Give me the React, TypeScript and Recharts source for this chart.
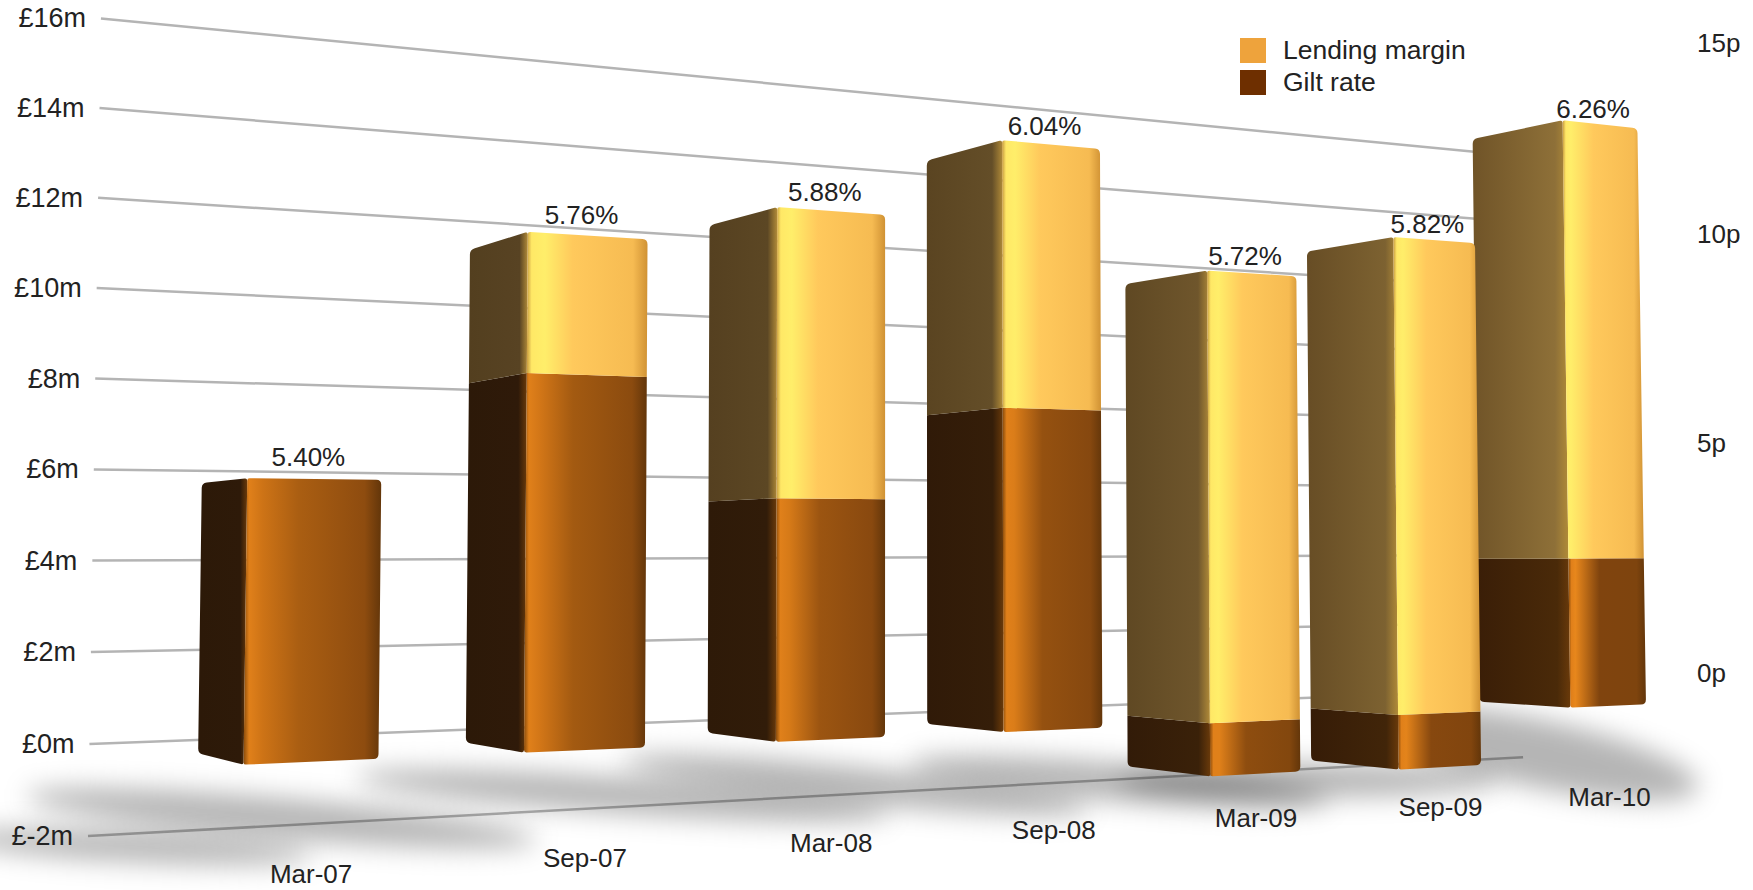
import React from 'react';
import { Bar, CartesianGrid, ComposedChart, LabelList, Legend, XAxis, YAxis } from 'recharts';

const periods = ['Mar-07', 'Sep-07', 'Mar-08', 'Sep-08', 'Mar-09', 'Sep-09', 'Mar-10'];
const giltRate = [5.6, 7.86, 5.3, 7.43, -1.27, -1.36, 3.9];
const lendingMargin = [0, 2.95, 6.4, 6.2, 10.9, 12.05, 11.6];
const rateLabels = ['5.40%', '5.76%', '5.88%', '6.04%', '5.72%', '5.82%', '6.26%'];
const leftTicks = [-2, 0, 2, 4, 6, 8, 10, 12, 14, 16];
const rightTicks = [0, 5, 10, 15];

// Later periods go first so that nearer bars paint over the ones behind them
const rows = periods
    .map((period, i) => ({ period, gilt: giltRate[i], margin: lendingMargin[i], rate: rateLabels[i] }))
    .reverse();

const WIDTH = 1753;
const HEIGHT = 890;
const AXIS_W = 60;
const TOP = 20;
const BOTTOM = 20;
const PLOT_W = WIDTH - 2 * AXIS_W;
const PLOT_H = HEIGHT - TOP - BOTTOM;
const BAND = PLOT_W / periods.length;
const BAR_W = Math.round(BAND * 0.467);
const BAR0_LEFT = AXIS_W + (BAND - BAR_W) / 2;
const Y_ZERO = TOP + (PLOT_H * 16) / 18;

// Three point perspective: origin is the nearest corner of the first bar at value zero
const ORIGIN = { x: 243.7, y: 764.7 };
const VP_X = { x: 5469, y: 540 };
const VP_Y = { x: 894, y: -50000 };
const VP_Z = { x: -559, y: 565 };
const X_RATE = 0.05672 / BAND;
const Y_RATE = 1 / (ORIGIN.y - VP_Y.y);
const Y_GAIN = 1.0894;
const BAR_DEPTH = 0.06;
const WALL_DEPTH = 0.1307;

type Pt = { x: number; y: number };

const project = (px: number, py: number, depth: number): Pt => {
    const t = (px - BAR0_LEFT) * X_RATE;
    const h = (Y_ZERO - py) * Y_GAIN * Y_RATE;
    const w = 1 + t + h + depth;
    return {
        x: (ORIGIN.x + t * VP_X.x + h * VP_Y.x + depth * VP_Z.x) / w,
        y: (ORIGIN.y + t * VP_X.y + h * VP_Y.y + depth * VP_Z.y) / w,
    };
};

// Outline with per-corner radius, [point, radius]
const roundedPath = (corners: [Pt, number][]) => {
    const n = corners.length;
    let d = '';
    corners.forEach(([p, r], i) => {
        const prev = corners[(i + n - 1) % n][0];
        const next = corners[(i + 1) % n][0];
        const toward = (q: Pt) => {
            const len = Math.hypot(q.x - p.x, q.y - p.y) || 1;
            const k = Math.min(r, len / 2) / len;
            return { x: p.x + (q.x - p.x) * k, y: p.y + (q.y - p.y) * k };
        };
        const a = toward(prev);
        const b = toward(next);
        d += `${i ? 'L' : 'M'}${a.x.toFixed(1)},${a.y.toFixed(1)} Q${p.x.toFixed(1)},${p.y.toFixed(1)} ${b.x.toFixed(1)},${b.y.toFixed(1)} `;
    });
    return d + 'Z';
};

const mix = (from: number[], to: number[], k: number) =>
    `rgb(${from.map((c, i) => Math.round(c + (to[i] - c) * k)).join(',')})`;

const BarFaces = (series: 'gilt' | 'margin') => (props: any) => {
    const { x, y, width, height, payload } = props;
    const top = Math.min(y, y + height);
    const bottom = Math.max(y, y + height);
    if (bottom - top < 0.5) return <g />;
    const idx = periods.indexOf(payload.period);
    const roundTop = series === 'margin' || payload.margin === 0;
    const roundBottom = series === 'gilt';
    const rT = roundTop ? 5 : 0;
    const rB = roundBottom ? 5 : 0;
    const cornerTop = project(x, top, 0);
    const cornerBottom = project(x, bottom, 0);
    const rightTop = project(x + width, top, 0);
    const rightBottom = project(x + width, bottom, 0);
    const leftTop = project(x, top, BAR_DEPTH);
    const leftBottom = project(x, bottom, BAR_DEPTH);
    return (
        <g>
            <path
                fill={`url(#${series}-left-${idx})`}
                d={roundedPath([[leftTop, rT], [cornerTop, rT / 2], [cornerBottom, rB / 2], [leftBottom, rB]])}
            />
            <path
                fill={`url(#${series}-right-${idx})`}
                d={roundedPath([[cornerTop, rT / 2], [rightTop, rT], [rightBottom, rB], [cornerBottom, rB / 2]])}
            />
        </g>
    );
};

// Floor shadow of each bar, placed relative to the foot of the bar
const shadowShapes = [
    { dx: -178, dy: 85, rx: 178, ry: 15, rot: 3 },
    { dx: -304, dy: 68, rx: 256, ry: 20, rot: 5 },
    { dx: -209, dy: 56, rx: 267, ry: 18, rot: 4 },
    { dx: -198, dy: 55, rx: 234, ry: 18, rot: 6 },
    { dx: -136, dy: 61, rx: 210, ry: 19, rot: 5 },
    { dx: -132, dy: 67, rx: 190, ry: 17, rot: 0 },
    { dx: -72, dy: 47, rx: 165, ry: 34, rot: 12 },
];

const renderShadow = (props: any) => {
    const { x, width, payload } = props;
    const idx = periods.indexOf(payload.period);
    const s = shadowShapes[idx];
    const foot = project(x + width / 2, Y_ZERO, 0);
    const sx = foot.x + s.dx;
    const sy = foot.y + s.dy;
    return (
        <ellipse
            cx={sx}
            cy={sy}
            rx={s.rx}
            ry={s.ry}
            fill="#000"
            fillOpacity={0.29}
            filter="url(#floor-blur)"
            transform={`rotate(${s.rot} ${sx} ${sy})`}
        />
    );
};

const textStyle = { fontFamily: '"Liberation Sans", Arial, sans-serif', fontSize: 26, fill: '#222' };

const renderLeftTick = (props: any) => {
    const { y, payload } = props;
    const p = project(AXIS_W + 9, y, WALL_DEPTH);
    return (
        <text x={p.x - 15} y={p.y} textAnchor="end" dominantBaseline="central" style={{ ...textStyle, fontSize: 27 }}>
            {`£${payload.value}m`}
        </text>
    );
};

// Right axis labels sit on their own receding plane
const renderRightTick = (props: any) => {
    const { y, payload } = props;
    const v = (TOP + PLOT_H - y) / (PLOT_H / 20) - 3;
    const sy = (673 - 41.6 * v) / (1 + 0.0099 * v);
    return (
        <text x={1697} y={sy} textAnchor="start" dominantBaseline="central" style={textStyle}>
            {`${payload.value}p`}
        </text>
    );
};

const renderPeriodTick = (props: any) => {
    const { x, payload } = props;
    const p = project(x, Y_ZERO + 77.6, 0);
    return (
        <text x={p.x} y={p.y + 28.6} textAnchor="middle" dominantBaseline="central" style={textStyle}>
            {payload.value}
        </text>
    );
};

const renderRate = (props: any) => {
    const { x, y, width, value } = props;
    const p = project(x + width / 2, y - 22.5, 0);
    return (
        <text x={p.x - 7} y={p.y + 2} textAnchor="middle" dominantBaseline="central" style={textStyle}>
            {value}
        </text>
    );
};

const renderGridLine = (props: any) => {
    const { y1, x1, x2 } = props;
    const a = project(x1 + 9, y1, WALL_DEPTH);
    const b = project(x2 + 45, y1, WALL_DEPTH);
    return <line key={y1} x1={a.x} y1={a.y} x2={b.x} y2={b.y} stroke="#b4b4b4" strokeWidth={2.5} />;
};

const legendRows = [
    { label: 'Lending margin', color: '#eea33c' },
    { label: 'Gilt rate', color: '#6e2f00' },
];

const renderLegend = () => (
    <div style={{ fontFamily: '"Liberation Sans", Arial, sans-serif', fontSize: 26.5, color: '#222' }}>
        {legendRows.map(row => (
            <div key={row.label} style={{ display: 'flex', alignItems: 'center', height: 32 }}>
                <span style={{ width: 26, height: 25, background: row.color, marginRight: 17 }} />
                {row.label}
            </div>
        ))}
    </div>
);

const App: React.FC = () => (
    <div style={{ position: 'absolute', left: 0, top: 0, width: WIDTH, height: HEIGHT, background: '#fff' }}>
        <ComposedChart
            width={WIDTH}
            height={HEIGHT}
            data={rows}
            stackOffset="sign"
            margin={{ top: TOP, right: 0, bottom: 0, left: 0 }}
        >
            <defs>
                <filter id="floor-blur" x="-30%" y="-250%" width="160%" height="600%">
                    <feGaussianBlur stdDeviation="13" />
                </filter>
                {periods.map((period, i) => {
                    const k = i / (periods.length - 1);
                    const glow = k * k;
                    return (
                        <React.Fragment key={period}>
                            <linearGradient id={`margin-left-${i}`} x1="0" y1="0" x2="1" y2="0">
                                <stop offset="0" stopColor={mix([82, 62, 31], [112, 84, 40], glow)} />
                                <stop offset="0.86" stopColor={mix([86, 66, 34], [142, 112, 56], glow)} />
                                <stop offset="1" stopColor="#b08a38" />
                            </linearGradient>
                            <linearGradient id={`margin-right-${i}`} x1="0" y1="0" x2="1" y2="0">
                                <stop offset="0" stopColor="#c89a40" />
                                <stop offset="0.04" stopColor="#ffe866" />
                                <stop offset={0.16 - 0.06 * k} stopColor="#ffee6a" />
                                <stop offset="0.38" stopColor="#ffc95c" />
                                <stop offset="0.88" stopColor="#f6bb52" />
                                <stop offset="1" stopColor="#d09234" />
                            </linearGradient>
                            <linearGradient id={`gilt-left-${i}`} x1="0" y1="0" x2="1" y2="0">
                                <stop offset="0" stopColor={mix([44, 25, 8], [58, 30, 7], glow)} />
                                <stop offset="0.86" stopColor={mix([46, 26, 9], [74, 42, 9], glow)} />
                                <stop offset="1" stopColor="#6a3a0a" />
                            </linearGradient>
                            <linearGradient id={`gilt-right-${i}`} x1="0" y1="0" x2="1" y2="0">
                                <stop offset="0" stopColor="#8a4c0c" />
                                <stop offset="0.04" stopColor="#e0801a" />
                                <stop offset={0.14 - 0.05 * k} stopColor={mix([205, 115, 22], [232, 135, 28], k)} />
                                <stop offset="0.4" stopColor={mix([170, 94, 18], [128, 68, 14], k)} />
                                <stop offset="0.88" stopColor={mix([142, 76, 15], [126, 68, 14], k)} />
                                <stop offset="1" stopColor="#63360a" />
                            </linearGradient>
                        </React.Fragment>
                    );
                })}
            </defs>
            <CartesianGrid yAxisId="left" vertical={false} horizontal={renderGridLine} />
            <XAxis
                dataKey="period"
                reversed
                height={BOTTOM}
                interval={0}
                axisLine={false}
                tickLine={false}
                tick={renderPeriodTick}
            />
            <XAxis xAxisId="floor" dataKey="period" reversed hide />
            <YAxis
                yAxisId="left"
                width={AXIS_W}
                domain={[-2, 16]}
                ticks={leftTicks}
                interval={0}
                axisLine={false}
                tickLine={false}
                tick={renderLeftTick}
            />
            <YAxis
                yAxisId="right"
                orientation="right"
                width={AXIS_W}
                domain={[-3, 17]}
                ticks={rightTicks}
                interval={0}
                axisLine={false}
                tickLine={false}
                tick={renderRightTick}
            />
            <Legend
                layout="vertical"
                align="center"
                verticalAlign="middle"
                content={renderLegend}
                wrapperStyle={{ left: 1240, top: 34, width: 300 }}
            />
            {/* shadows come first so every bar paints over them */}
            <Bar
                xAxisId="floor"
                yAxisId="right"
                dataKey="margin"
                barSize={BAR_W}
                shape={renderShadow}
                legendType="none"
                isAnimationActive={false}
            />
            <Bar
                yAxisId="left"
                name="Gilt rate"
                dataKey="gilt"
                stackId="rate"
                barSize={BAR_W}
                fill="#6e2f00"
                shape={BarFaces('gilt')}
                isAnimationActive={false}
            />
            <Bar
                yAxisId="left"
                name="Lending margin"
                dataKey="margin"
                stackId="rate"
                barSize={BAR_W}
                fill="#eea33c"
                shape={BarFaces('margin')}
                isAnimationActive={false}
            >
                <LabelList dataKey="rate" content={renderRate} />
            </Bar>
        </ComposedChart>
    </div>
);

export default App;
